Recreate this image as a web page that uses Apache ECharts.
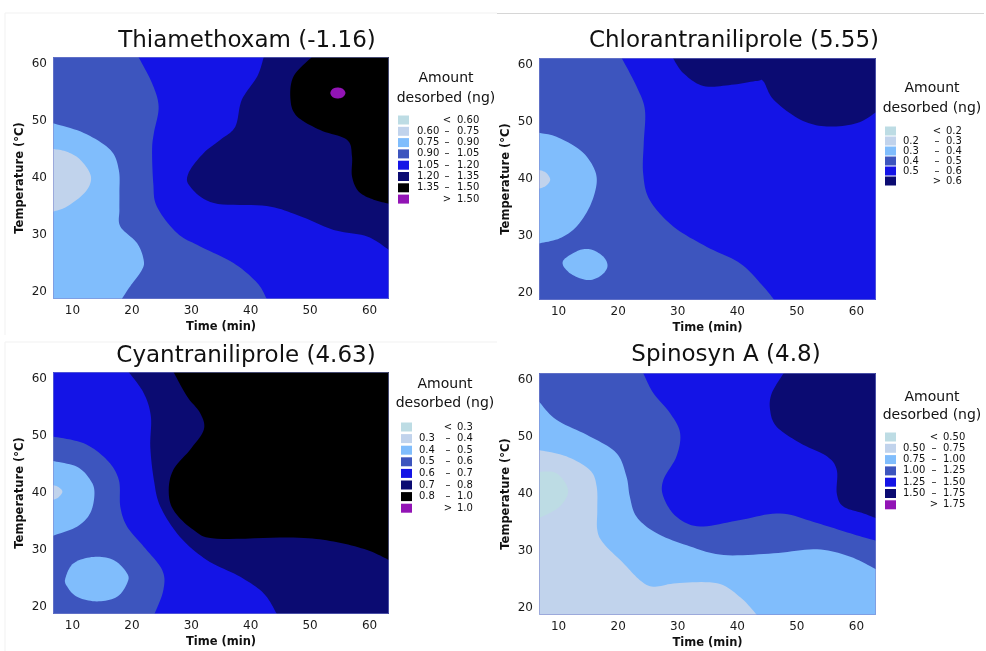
<!DOCTYPE html>
<html>
<head>
<meta charset="utf-8">
<script src="https://cdn.jsdelivr.net/npm/echarts@6/dist/echarts.min.js"></script>
<style>
  html, body { margin: 0; padding: 0; background: #ffffff; }
  #main { width: 986px; height: 651px; }
</style>
</head>
<body>
<div id="main"></div>
<script>
// Design space of the central composite design
const timeRange = [6.72, 63.28];   // min
const tempRange = [18.79, 61.21];  // °C
const timeTicks = [10, 20, 30, 40, 50, 60];
const tempTicks = [20, 30, 40, 50, 60];

// Fill colours of the contour bands, lowest to highest
const bandColors = ['#bddce4', '#c1d3ec', '#80bdfc', '#3d55be', '#1414e6', '#0b0b72', '#000000', '#9214b5'];

// ---------- Thiamethoxam ----------
const thiaTitle = 'Thiamethoxam (-1.16)';
const thiaBreaks = ['0.60', '0.75', '0.90', '1.05', '1.20', '1.35', '1.50'];
const thiaSwatches = [0, 1, 2, 3, 4, 5, 6, 7];
const thiaBase = 3;
// isolines: [time, temperature]
const thiaIso075 = [[6.72,45.1],[9.07,44.6],[11.3,43.2],[13.1,40.3],[12.2,37.6],[9.07,35.0],[6.72,34.1]];
const thiaIso090 = [[6.72,49.6],[11.9,47.9],[16.4,44.9],[17.8,41.4],[17.9,37.4],[17.9,34.4],[18.05,31.5],[20.86,28.6],[21.97,25.7],[21.7,23.9],[19.7,21.0],[18.3,18.79]];
const thiaIso105 = [[21.1,61.21],[23.4,56.6],[24.5,52.5],[23.7,47.9],[23.4,44.9],[23.6,39.1],[24.2,35.0],[27.6,30.35],[31.5,28.0],[37.1,25.1],[41.1,21.6],[42.7,18.79]];
const thiaIso120 = [[42.2,61.21],[41.1,57.8],[38.5,53.7],[37.4,49.0],[34.9,46.7],[32.1,44.4],[29.55,40.9],[29.8,38.5],[33.8,35.6],[42.7,35.1],[48.35,33.3],[53.96,30.9],[59.6,29.75],[63.28,27.4]];
const thiaIso135 = [[50.3,61.21],[47.2,57.8],[46.7,53.7],[47.8,50.8],[51.7,48.4],[56.2,46.7],[57.05,43.8],[57.05,40.3],[58.2,37.6],[60.7,36.2],[63.28,35.5]];
const thiaIso150 = [[53.4,54.9],[54.0,55.75],[55.3,55.75],[55.95,54.9],[55.3,54.05],[54.0,54.05]];

// ---------- Chlorantraniliprole ----------
const chlorTitle = 'Chlorantraniliprole (5.55)';
const chlorBreaks = ['0.2', '0.3', '0.4', '0.5', '0.6'];
const chlorSwatches = [0, 1, 2, 3, 4, 5];
const chlorBase = 3;
const chlorIso030 = [[6.72,41.6],[7.9,41.1],[8.6,39.9],[7.9,38.8],[6.72,38.3]];
const chlorIso040 = [[6.72,48.1],[9.65,47.4],[13.6,45.1],[15.8,42.2],[16.4,39.3],[15.25,35.2],[13.0,31.65],[10.2,29.6],[6.72,28.7]];
const chlorLoop040 = [[10.7,25.5],[13.0,27.3],[15.25,27.7],[17.5,26.4],[18.2,24.6],[16.9,22.9],[14.7,22.3],[11.9,23.5]];
const chlorIso050 = [[20.6,61.21],[23.1,56.2],[24.5,52.1],[24.3,46.3],[24.2,41.0],[25.3,36.3],[29.3,31.65],[34.9,28.1],[40.5,25.2],[44.4,21.1],[46.2,18.79]];
const chlorIso060 = [[29.2,61.21],[30.9,58.6],[34.3,56.3],[39.0,56.5],[43.3,57.2],[44.4,57.1],[46.1,53.9],[50.6,50.4],[55.05,49.2],[60.1,49.8],[63.28,51.7]];

// ---------- Cyantraniliprole ----------
const cyanTitle = 'Cyantraniliprole (4.63)';
const cyanBreaks = ['0.3', '0.4', '0.5', '0.6', '0.7', '0.8', '1.0'];
const cyanSwatches = [0, 1, 2, 3, 4, 5, 6, 7];
const cyanBase = 4;
const cyanIso040 = [[6.72,41.4],[7.7,41.0],[8.3,40.2],[7.6,39.2],[6.72,38.8]];
const cyanIso050 = [[6.72,45.6],[10.76,44.6],[13.0,42.3],[13.7,40.0],[13.0,36.5],[10.76,34.1],[6.72,32.5]];
const cyanLoop050 = [[8.8,25.05],[10.2,27.7],[13.55,28.8],[16.9,28.26],[19.2,25.9],[19.2,24.2],[17.5,21.8],[14.1,21.0],[10.76,21.8],[9.1,23.6]];
const cyanIso060 = [[6.72,49.9],[11.9,48.7],[15.8,45.8],[17.8,42.3],[18.05,37.6],[19.2,34.1],[22.0,30.6],[25.1,26.5],[25.3,23.0],[23.8,18.79]];
const cyanIso070 = [[19.45,61.21],[22.0,57.5],[23.2,53.4],[23.1,48.1],[23.7,42.3],[24.8,37.6],[28.1,32.3],[32.6,28.26],[38.25,25.3],[42.2,22.4],[44.4,18.79]];
const cyanIso080 = [[27.0,61.21],[29.3,56.9],[31.5,54.0],[32.1,51.1],[29.8,47.6],[27.0,44.1],[26.2,40.5],[27.0,37.0],[30.4,33.5],[34.3,32.0],[47.2,32.2],[53.96,31.5],[59.6,30.0],[63.28,28.26]];

// ---------- Spinosyn A ----------
const spinTitle = 'Spinosyn A (4.8)';
const spinBreaks = ['0.50', '0.75', '1.00', '1.25', '1.50', '1.75'];
const spinSwatches = [0, 1, 2, 3, 4, 5, 7];
const spinBase = 3;
const spinIso050 = [[6.72,43.9],[9.65,43.65],[11.6,40.7],[10.2,37.8],[6.72,35.75]];
const spinIso075 = [[6.72,47.7],[11.3,46.6],[15.25,44.2],[16.4,41.3],[16.5,37.2],[16.5,33.7],[17.5,31.4],[20.85,27.9],[23.65,24.9],[25.9,23.75],[29.8,24.35],[36.6,24.35],[40.5,21.9],[43.3,18.79]];
const spinIso100 = [[6.72,56.2],[9.65,53.0],[15.25,50.1],[19.7,47.2],[21.4,43.05],[21.97,39.5],[23.1,36.0],[26.5,33.1],[32.1,30.8],[37.7,29.3],[46.1,29.6],[53.4,30.3],[58.97,29.0],[63.28,26.8]];
const spinIso125 = [[24.2,61.21],[25.9,57.7],[28.7,54.2],[30.4,50.7],[29.8,46.6],[27.6,42.5],[27.6,39.5],[29.8,36.0],[33.75,34.3],[40.5,35.45],[47.2,36.6],[53.4,34.9],[58.97,33.1],[63.28,31.8]];
const spinIso150 = [[47.8,61.21],[45.8,57.7],[45.5,54.8],[46.6,51.8],[50.6,48.9],[55.05,46.6],[56.7,44.2],[56.7,40.1],[57.8,37.8],[61.2,36.6],[63.28,35.75]];

// Each patch fills one band; open isolines are closed along the plot frame
// ('ccw' / 'cw'), loops are closed on themselves.
const charts = [
  { title: thiaTitle, breaks: thiaBreaks, swatches: thiaSwatches, base: thiaBase, patches: [
    { line: thiaIso090, band: 2, walk: 'cw' },
    { line: thiaIso075, band: 1, walk: 'cw' },
    { line: thiaIso105, band: 4, walk: 'ccw' },
    { line: thiaIso120, band: 5, walk: 'ccw' },
    { line: thiaIso135, band: 6, walk: 'ccw' },
    { line: thiaIso150, band: 7, walk: 'loop' } ] },
  { title: chlorTitle, breaks: chlorBreaks, swatches: chlorSwatches, base: chlorBase, patches: [
    { line: chlorIso040, band: 2, walk: 'cw' },
    { line: chlorIso030, band: 1, walk: 'cw' },
    { line: chlorLoop040, band: 2, walk: 'loop' },
    { line: chlorIso050, band: 4, walk: 'ccw' },
    { line: chlorIso060, band: 5, walk: 'ccw' } ] },
  { title: cyanTitle, breaks: cyanBreaks, swatches: cyanSwatches, base: cyanBase, patches: [
    { line: cyanIso060, band: 3, walk: 'cw' },
    { line: cyanIso050, band: 2, walk: 'cw' },
    { line: cyanIso040, band: 1, walk: 'cw' },
    { line: cyanLoop050, band: 2, walk: 'loop' },
    { line: cyanIso070, band: 5, walk: 'ccw' },
    { line: cyanIso080, band: 6, walk: 'ccw' } ] },
  { title: spinTitle, breaks: spinBreaks, swatches: spinSwatches, base: spinBase, patches: [
    { line: spinIso100, band: 2, walk: 'cw' },
    { line: spinIso075, band: 1, walk: 'cw' },
    { line: spinIso050, band: 0, walk: 'cw' },
    { line: spinIso125, band: 4, walk: 'ccw' },
    { line: spinIso150, band: 5, walk: 'ccw' } ] }
];

// Page layout of the four panels
const FONT = '"DejaVu Sans", Verdana, sans-serif';
const layout = [
  { grid: { left: 53, top: 57, width: 336, height: 242 }, titleX: 247, titleY: 41,
    leg: { x: 446, t1: 78, t2: 98, row0: 120, step: 11.3, sw: 398, lo: 417, sym: 447, hi: 457 } },
  { grid: { left: 539, top: 58, width: 337, height: 242 }, titleX: 734, titleY: 41,
    leg: { x: 932, t1: 88, t2: 108, row0: 131, step: 10, sw: 885, lo: 903, sym: 937, hi: 946 } },
  { grid: { left: 53, top: 372, width: 336, height: 242 }, titleX: 246, titleY: 356,
    leg: { x: 445, t1: 384, t2: 403, row0: 427, step: 11.6, sw: 401, lo: 419, sym: 448, hi: 457 } },
  { grid: { left: 539, top: 373, width: 337, height: 242 }, titleX: 726, titleY: 355,
    leg: { x: 932, t1: 397, t2: 415, row0: 437, step: 11.3, sw: 885, lo: 903, sym: 934, hi: 943 } }
];

// position of a frame point along the plot perimeter (counter-clockwise, 0..4)
function perim(p) {
  const [x0, x1] = timeRange, [y0, y1] = tempRange, e = 0.05;
  if (Math.abs(p[1] - y0) < e) return (p[0] - x0) / (x1 - x0);
  if (Math.abs(p[0] - x1) < e) return 1 + (p[1] - y0) / (y1 - y0);
  if (Math.abs(p[1] - y1) < e) return 2 + (x1 - p[0]) / (x1 - x0);
  return 3 + (y1 - p[1]) / (y1 - y0);
}
const frameCorners = [[timeRange[0], tempRange[0]], [timeRange[1], tempRange[0]],
                      [timeRange[1], tempRange[1]], [timeRange[0], tempRange[1]]];

function frameWalk(line, dir) {
  const sEnd = perim(line[line.length - 1]);
  let sStart = perim(line[0]);
  const out = [];
  if (dir === 'ccw') {
    if (sStart <= sEnd) sStart += 4;
    for (let k = Math.floor(sEnd) + 1; k < sStart; k++) out.push(frameCorners[k % 4]);
  } else {
    if (sStart >= sEnd) sStart -= 4;
    for (let k = Math.ceil(sEnd) - 1; k > sStart; k--) out.push(frameCorners[((k % 4) + 4) % 4]);
  }
  return out;
}

// Catmull-Rom curve through pixel points
function curve(pts, closed) {
  const n = pts.length, out = [], steps = 10;
  const at = i => closed ? pts[(i + n) % n] : pts[Math.max(0, Math.min(n - 1, i))];
  const segs = closed ? n : n - 1;
  for (let i = 0; i < segs; i++) {
    const p0 = at(i - 1), p1 = at(i), p2 = at(i + 1), p3 = at(i + 2);
    for (let s = 0; s < steps; s++) {
      const t = s / steps, t2 = t * t, t3 = t2 * t;
      const f = (a, b, c, d) => 0.5 * ((2 * b) + (-a + c) * t + (2 * a - 5 * b + 4 * c - d) * t2 + (-a + 3 * b - 3 * c + d) * t3);
      out.push([f(p0[0], p1[0], p2[0], p3[0]), f(p0[1], p1[1], p2[1], p3[1])]);
    }
  }
  if (!closed) out.push(pts[n - 1]);
  return out;
}

function makeRender(chart) {
  return function (params, api) {
    const k = params.dataIndex;
    if (k === 0) {
      return { type: 'polygon', z2: 0, shape: { points: frameCorners.map(c => api.coord(c)) },
               style: { fill: bandColors[chart.base] } };
    }
    const p = chart.patches[k - 1];
    const px = p.line.map(d => api.coord(d));
    let points;
    if (p.walk === 'loop') {
      points = curve(px, true);
    } else {
      points = curve(px, false).concat(frameWalk(p.line, p.walk).map(c => api.coord(c)));
    }
    return { type: 'polygon', z2: k, shape: { points: points }, style: { fill: bandColors[p.band] } };
  };
}

const grids = [], xAxes = [], yAxes = [], series = [], graphics = [];

charts.forEach((chart, i) => {
  const L = layout[i];
  grids.push(Object.assign({ containLabel: false }, L.grid));
  xAxes.push({
    gridIndex: i, type: 'value', min: timeRange[0], max: timeRange[1],
    axisLine: { show: false }, axisTick: { show: false }, splitLine: { show: false },
    axisLabel: { customValues: timeTicks, color: '#1a1a1a', fontSize: 12, fontFamily: FONT, margin: 6 },
    name: 'Time (min)', nameLocation: 'middle', nameGap: 22,
    nameTextStyle: { fontFamily: FONT, fontWeight: 'bold', fontSize: 11.5, color: '#111' }
  });
  yAxes.push({
    gridIndex: i, type: 'value', min: tempRange[0], max: tempRange[1],
    axisLine: { show: false }, axisTick: { show: false }, splitLine: { show: false },
    axisLabel: { customValues: tempTicks, color: '#1a1a1a', fontSize: 12, fontFamily: FONT, margin: 6 },
    name: 'Temperature (°C)', nameLocation: 'middle', nameGap: 27,
    nameTextStyle: { fontFamily: FONT, fontWeight: 'bold', fontSize: 11.5, color: '#111' }
  });
  series.push({
    type: 'custom', coordinateSystem: 'cartesian2d', xAxisIndex: i, yAxisIndex: i,
    clip: true, silent: true, animation: false,
    data: [0].concat(chart.patches.map((_, j) => j + 1)),
    renderItem: makeRender(chart)
  });

  // thin frame round the plot area
  graphics.push({ type: 'rect', silent: true, z: 100,
    shape: { x: L.grid.left + 0.5, y: L.grid.top + 0.5, width: L.grid.width - 1, height: L.grid.height - 1 },
    style: { fill: null, stroke: 'rgba(125,135,205,0.55)', lineWidth: 1 } });

  // panel title
  graphics.push({ type: 'text', x: L.titleX, y: L.titleY, silent: true,
    style: { text: chart.title, font: '23px ' + FONT, fill: '#111', textAlign: 'center', textVerticalAlign: 'middle' } });

  // band legend
  const g = L.leg;
  graphics.push({ type: 'text', x: g.x, y: g.t1, silent: true,
    style: { text: 'Amount', font: '14px ' + FONT, fill: '#111', textAlign: 'center', textVerticalAlign: 'middle' } });
  graphics.push({ type: 'text', x: g.x, y: g.t2, silent: true,
    style: { text: 'desorbed (ng)', font: '14px ' + FONT, fill: '#111', textAlign: 'center', textVerticalAlign: 'middle' } });
  const nRows = chart.breaks.length + 1;
  for (let r = 0; r < nRows; r++) {
    const y = g.row0 + r * g.step;
    graphics.push({ type: 'rect', silent: true, shape: { x: g.sw, y: y - 4.5, width: 11, height: 9 },
      style: { fill: bandColors[chart.swatches[r]] } });
    let lo = '', sym, hi;
    if (r === 0) { sym = '<'; hi = chart.breaks[0]; }
    else if (r === nRows - 1) { sym = '>'; hi = chart.breaks[r - 1]; }
    else { lo = chart.breaks[r - 1]; sym = '–'; hi = chart.breaks[r]; }
    const ts = { font: '10px ' + FONT, fill: '#111', textVerticalAlign: 'middle' };
    if (lo) graphics.push({ type: 'text', x: g.lo, y: y, silent: true, style: Object.assign({ text: lo, textAlign: 'left' }, ts) });
    graphics.push({ type: 'text', x: g.sym, y: y, silent: true, style: Object.assign({ text: sym, textAlign: 'center' }, ts) });
    graphics.push({ type: 'text', x: g.hi, y: y, silent: true, style: Object.assign({ text: hi, textAlign: 'left' }, ts) });
  }
});

// faint panel frames
graphics.push({ type: 'polyline', silent: true, shape: { points: [[5, 335], [5, 13], [497, 13]] }, style: { stroke: '#f1f1f1', lineWidth: 1, fill: null } });
graphics.push({ type: 'line', silent: true, shape: { x1: 497, y1: 13.5, x2: 984, y2: 13.5 }, style: { stroke: '#d6d6d6', lineWidth: 1 } });
graphics.push({ type: 'polyline', silent: true, shape: { points: [[5, 651], [5, 342], [497, 342]] }, style: { stroke: '#f1f1f1', lineWidth: 1, fill: null } });

const chart = echarts.init(document.getElementById('main'), null, { renderer: 'canvas' });
chart.setOption({
  animation: false,
  backgroundColor: '#ffffff',
  grid: grids,
  xAxis: xAxes,
  yAxis: yAxes,
  series: series,
  graphic: graphics
});
</script>
</body>
</html>
